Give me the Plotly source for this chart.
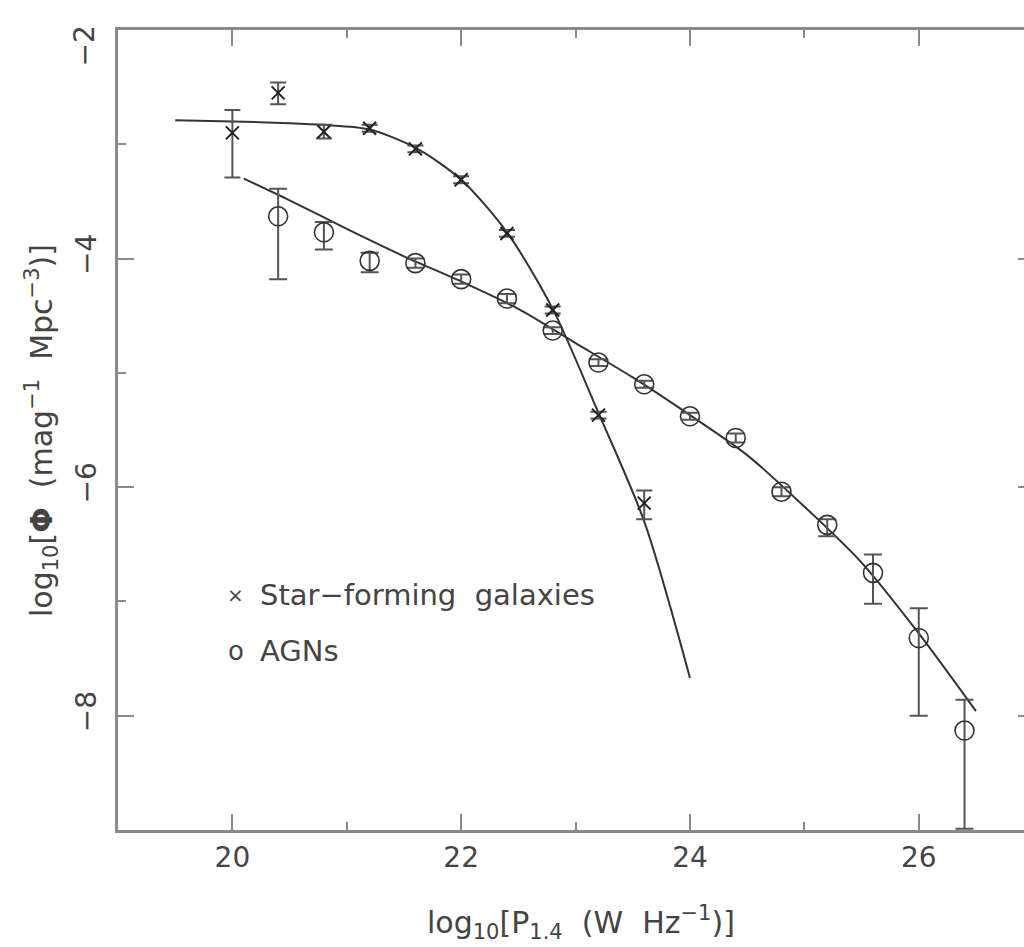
import plotly.graph_objects as go

# Star-forming galaxies (x markers)
sf_x = [20.0, 20.4, 20.8, 21.2, 21.6, 22.0, 22.4, 22.8, 23.2, 23.6]
sf_y = [-2.90, -2.55, -2.89, -2.86, -3.04, -3.31, -3.78, -4.45, -5.37, -6.14]
sf_err_plus = [0.20, 0.09, 0.06, 0.03, 0.03, 0.03, 0.03, 0.03, 0.03, 0.11]
sf_err_minus = [0.39, 0.10, 0.06, 0.03, 0.03, 0.03, 0.03, 0.03, 0.03, 0.14]

# Star-forming fit curve
sf_fit_x = [19.5, 20.0, 20.5, 20.8, 21.2, 21.6, 22.0, 22.4, 22.8, 23.2, 23.6, 24.0]
sf_fit_y = [-2.79, -2.80, -2.815, -2.83, -2.87, -3.03, -3.31, -3.77, -4.44, -5.35, -6.30, -7.67]

# AGNs (open circles)
agn_x = [20.4, 20.8, 21.2, 21.6, 22.0, 22.4, 22.8, 23.2, 23.6, 24.0, 24.4, 24.8, 25.2, 25.6, 26.0, 26.4]
agn_y = [-3.63, -3.77, -4.02, -4.04, -4.18, -4.35, -4.63, -4.91, -5.10, -5.38, -5.57, -6.04, -6.33, -6.75, -7.32, -8.13]
agn_err_plus = [0.24, 0.09, 0.07, 0.04, 0.04, 0.04, 0.03, 0.03, 0.03, 0.03, 0.04, 0.04, 0.05, 0.16, 0.26, 0.27]
agn_err_minus = [0.55, 0.15, 0.10, 0.04, 0.04, 0.04, 0.03, 0.03, 0.03, 0.03, 0.04, 0.04, 0.10, 0.27, 0.68, 0.86]

# AGN fit curve
agn_fit_x = [20.1, 20.5, 21.0, 21.5, 22.0, 22.5, 23.0, 23.5, 24.0, 24.5, 25.0, 25.5, 26.0, 26.5]
agn_fit_y = [-3.30, -3.49, -3.74, -3.98, -4.20, -4.44, -4.74, -5.04, -5.37, -5.72, -6.17, -6.66, -7.28, -7.96]

legend_labels = ["Star\u2212forming  galaxies", "AGNs"]

x_ticks = [20, 22, 24, 26]
y_ticks = [-2, -4, -6, -8]
# the top label (-2) is drawn separately, nudged down as in the reference
y_tick_text = ["", "\u22124", "\u22126", "\u22128"]
top_label = "\u22122"

FONT = "DejaVu Sans"
TXT = "#444444"
INK = "#333333"
AX = "#8a8a8a"

fig = go.Figure()

fig.add_trace(go.Scatter(
    x=sf_fit_x, y=sf_fit_y, mode="lines", line=dict(color=INK, width=2, shape="spline", smoothing=0.8),
    hoverinfo="skip", showlegend=False))
fig.add_trace(go.Scatter(
    x=agn_fit_x, y=agn_fit_y, mode="lines", line=dict(color=INK, width=2, shape="spline", smoothing=0.8),
    hoverinfo="skip", showlegend=False))

fig.add_trace(go.Scatter(
    x=sf_x, y=sf_y, mode="markers",
    marker=dict(symbol="x-thin-open", size=13, color="#222222", line=dict(color="#222222", width=2)),
    error_y=dict(type="data", symmetric=False, array=sf_err_plus, arrayminus=sf_err_minus,
                 color="#555555", thickness=2, width=8),
    showlegend=False))

fig.add_trace(go.Scatter(
    x=agn_x, y=agn_y, mode="markers",
    marker=dict(symbol="circle-open", size=19, color=INK, line=dict(color=INK, width=1.6)),
    error_y=dict(type="data", symmetric=False, array=agn_err_plus, arrayminus=agn_err_minus,
                 color="#555555", thickness=2, width=9),
    showlegend=False))

# invisible trace to host the right-hand tick axis
fig.add_trace(go.Scatter(
    x=agn_x, y=agn_y, yaxis="y2", mode="lines", line=dict(width=0), opacity=0,
    hoverinfo="skip", showlegend=False))

fig.update_layout(
    width=1024, height=947, autosize=False,
    margin=dict(l=118, r=0, t=30, b=117),
    paper_bgcolor="white", plot_bgcolor="white",
    font=dict(family=FONT, color=TXT, size=28),
    xaxis=dict(
        range=[19, 26.92], tickvals=x_ticks, ticktext=[str(v) for v in x_ticks],
        ticks="inside", ticklen=16, tickwidth=2, tickcolor=AX,
        minor=dict(dtick=1, tick0=19, ticks="inside", ticklen=8, tickwidth=2, tickcolor=AX),
        showline=True, linecolor=AX, linewidth=3, mirror="ticks",
        showgrid=False, zeroline=False,
        tickfont=dict(family=FONT, size=28, color=TXT),
        ticklabelstandoff=0,
    ),
    yaxis=dict(
        range=[-9, -2], tickvals=y_ticks, ticktext=y_tick_text,
        ticks="inside", ticklen=16, tickwidth=2, tickcolor=AX,
        minor=dict(dtick=1, tick0=-9, ticks="inside", ticklen=8, tickwidth=2, tickcolor=AX),
        showline=True, linecolor=AX, linewidth=3, mirror=False,
        showgrid=False, zeroline=False, tickangle=-90,
        tickfont=dict(family=FONT, size=28, color=TXT),
        ticklabelstandoff=8,
    ),
    yaxis2=dict(
        range=[-9, -2], overlaying="y", side="right", tickvals=y_ticks,
        ticks="inside", ticklen=6, tickwidth=2, tickcolor=AX,
        showticklabels=False, showline=False, showgrid=False, zeroline=False,
    ),
)

# top y tick label
fig.add_annotation(text=top_label, xref="paper", yref="y", x=-0.037, y=y_ticks[0] - 0.14,
                   showarrow=False, textangle=-90, xanchor="center", yanchor="middle",
                   font=dict(family=FONT, size=28, color=TXT))

# axis titles
fig.add_annotation(
    text="log<sub>10</sub>[P<sub>1.4</sub>  (W  Hz<sup>\u22121</sup>)]",
    xref="x", yref="paper", x=23.05, y=-0.115, showarrow=False,
    xanchor="center", yanchor="middle", font=dict(family=FONT, size=30, color=TXT))
fig.add_annotation(
    text="log<sub>10</sub>[<b>\u03a6</b>  (mag<sup>\u22121</sup>  Mpc<sup>\u22123</sup>)]",
    xref="paper", yref="paper", x=-0.085, y=0.5, showarrow=False, textangle=-90,
    xanchor="center", yanchor="middle", font=dict(family=FONT, size=30, color=TXT))

# legend
fig.add_annotation(text="\u00d7", xref="x", yref="y", x=20.03, y=-6.94, showarrow=False,
                   xanchor="center", yanchor="middle", font=dict(family=FONT, size=20, color=TXT))
fig.add_annotation(text=legend_labels[0], xref="x", yref="y", x=20.22, y=-6.94, showarrow=False,
                   xanchor="left", yanchor="middle", font=dict(family=FONT, size=29, color=TXT))
fig.add_annotation(text="o", xref="x", yref="y", x=20.03, y=-7.43, showarrow=False,
                   xanchor="center", yanchor="middle", font=dict(family=FONT, size=26, color=TXT))
fig.add_annotation(text=legend_labels[1], xref="x", yref="y", x=20.22, y=-7.43, showarrow=False,
                   xanchor="left", yanchor="middle", font=dict(family=FONT, size=29, color=TXT))

fig.write_html("out.html")
